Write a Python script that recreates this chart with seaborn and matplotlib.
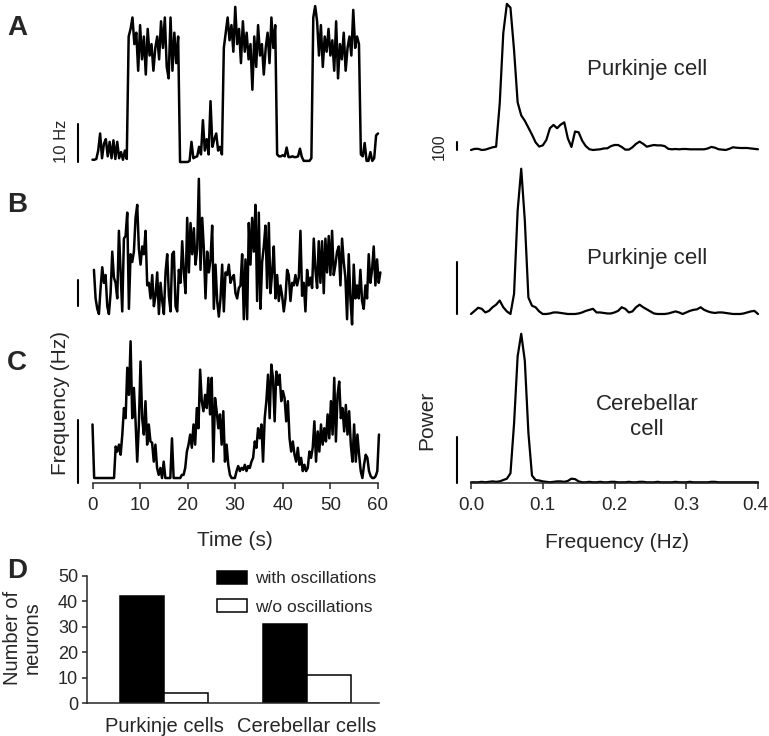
import numpy as np
import pandas as pd
import matplotlib
matplotlib.use("Agg")
import matplotlib.pyplot as plt
import matplotlib.transforms as mtransforms
import seaborn as sns

# ---------------- data ----------------
# Panel A: firing-rate trace (Hz), samples evenly spaced over 0-60 s
trace_a = [0.6, 0.6, 0.8, 3, 7.5, 1, 4.8, 6, 1.5, 5.3, 1, 5.7, 0.8, 5.3, 1, 2.6, 0.6, 3, 0.8,
           33, 35, 38, 31, 34, 24, 36, 27, 33, 23, 35, 28, 31, 24, 30, 33, 27, 37, 30, 38, 25, 22, 38, 24, 34, 26, 33,
           0, 0, 0, 0, 0, 0.3,
           5.3, 1, 1.3, 1.5, 4, 2, 11, 3, 6, 2, 16, 4, 6, 7.5, 3, 4, 2,
           30,
           34, 38, 32, 36, 29, 40.8, 31, 35, 26, 37, 29, 34, 27, 31, 19, 33, 25, 36, 28, 31, 23, 30, 34, 26, 38, 30, 36,
           2, 1.5, 1.5, 1.8, 1.5, 3.8, 1.3, 1.3, 1.5, 1.3, 1.3, 1.5, 3.5, 1.3, 0.3, 0.3, 0.3, 0.3, 1,
           38, 41, 37, 28, 36, 25, 33, 29, 35, 28, 32, 24, 37, 22, 31, 27, 34, 24, 30, 33, 28, 40, 30, 33, 31,
           2, 1.5, 5, 0.3, 0.3, 2.6, 0.3, 1, 7, 7.5]
trace_a_span = (0.0, 60.0)

# Panel B trace (Hz)
trace_b = [27, 16, 12, 10, 20, 28, 22, 25, 13, 10, 18, 34, 24, 22, 16, 42, 26, 11, 39, 40, 49, 12, 33, 30, 34,
           47, 52, 35, 29, 36, 33, 42, 21, 22, 16, 25, 13, 17, 26, 10, 22, 15, 10, 26, 33, 17, 11, 33, 34, 13,
           11, 27, 22, 38, 26, 18, 47, 26, 45, 33, 43, 29, 35, 62, 27, 47, 35, 16, 34, 26, 31, 44, 12, 29, 15,
           9, 16, 29, 11, 26, 25, 29, 22, 24, 25,
           18, 16, 20, 21, 33, 8, 31, 8, 45, 29, 47, 34, 52, 15, 49, 12, 30, 36, 44, 20, 45, 18, 26, 36, 16,
           25, 15, 21, 17, 11, 16, 27, 25, 15, 22, 21, 25, 21, 24, 42, 17, 22, 11, 27, 21, 24, 20, 39, 27, 20,
           38, 22, 38, 18, 39, 26, 40, 25, 42, 25, 29, 34, 36, 21, 39, 30, 24, 8, 33, 16, 6, 29, 16, 21, 16,
           27, 15, 12, 21, 16, 33, 22, 27, 36, 21, 31, 22, 26]
trace_b_span = (0.3, 60.5)

# Panel C trace (Hz)
trace_c = [8.5, 0, 0, 0, 0, 0, 0, 0, 0, 0, 0, 0, 0, 0,
           5.0, 4.2, 5.3, 3.7, 6.9, 11.1, 9.5, 17.5, 13.2, 21.7, 9.5, 14.3, 9.0, 2.6, 8.5, 18.5, 9.5, 6.9, 12.2, 5.3,
           8.5, 5.8, 5.6, 2.6, 5.3, 1.6, 0.5, 1.6, 0, 2.6,
           0, 0, 0, 0, 6.3, 0, 0, 0, 0, 0, 0.5, 0.5,
           1.6, 4.2, 5.3, 6.9, 4.8, 8.5, 5.3, 11.1, 7.9, 17.2, 12.2, 10.6, 13.2, 11.1, 15.9, 10.1, 15.9, 2.6, 12.7, 10.6,
           7.9, 10.1, 5.3, 10.6, 2.6, 5.3, 2.1, 0.5, 0, 0, 0,
           1.1, 1.9, 1.1, 1.6, 1.3, 2.1, 1.1, 1.9, 1.6, 2.6, 3.2, 5.8, 4.8, 7.9, 6.3, 8.5, 2.6, 9.5, 12.2, 16.4,
           9.5, 18.0, 15.9, 9.0, 16.9, 14.8, 16.4, 12.2, 13.8, 12.7, 9.0, 12.2, 6.3, 4.2, 5.8, 3.7, 2.6, 4.8, 2.1, 3.2,
           1.1, 2.1, 1.1, 1.6, 4.2, 3.2, 4.8, 9.0, 2.6, 7.4, 4.2, 8.5, 5.3, 7.9, 5.8, 10.1, 6.3, 12.2, 6.9, 15.9,
           5.8, 13.2, 15.3, 9.5, 11.1, 7.4, 11.6, 6.9, 10.6, 5.3, 2.6, 8.5, 2.6, 6.9, 3.7, 1.1, 0, 2.1, 3.7, 3.2,
           1.1, 0.3, 0, 0, 0.3, 1.1, 6.9]
trace_c_span = (0.0, 60.2)

# Power spectra, 0-0.4 Hz
spec_span = (0.0, 0.4)
spec_a = [0, 15, 15, 0, 5, 20, 35, 43, 600, 1520,
          1900, 1850, 1300, 620, 450, 380, 290, 200, 100, 45,
          60, 130, 283, 326, 283, 330, 360, 150, 40, 240,
          230, 120, 50, 10, 0, 5, 9, 20, 22, 50,
          65, 65, 40, 5, 5, 35, 80, 109, 80, 43,
          55, 65, 60, 60, 50, 15, 9, 13, 9, 13,
          13, 9, 9, 9, 9, 9, 20, 40, 30, 10,
          5, 0, 15, 35, 30, 26, 26, 26, 20, 15, 9]
spec_b = [0, 6, 12, 10, 3, 6, 13, 18, 26, 13,
          5, 0, 39, 200, 281, 181, 32, 16, 13, 5,
          0, 0, 1, 3, 3, 2, 1, 0, 0, 0,
          1, 3, 6, 8, 10, 3, 3, 2, 1, 1,
          3, 6, 13, 10, 3, 5, 13, 18, 13, 9,
          5, 1, 0, 0, 0, 1, 3, 5, 3, 0,
          3, 6, 8, 9, 13, 8, 5, 3, 2, 3,
          3, 2, 1, 0, 0, 0, 1, 3, 5, 6, 0]
spec_c = [0, 0, 0, 1, 0, 1, 2, 1, 2, 5,
          8, 20, 130, 280, 330, 270, 110, 15, 5, 4,
          2, 1, 0, 1, 2, 2, 1, 3, 8, 7,
          2, 0, 0, 1, 0, 0, 1, 0, 0, 1,
          1, 0, 0, 0, 1, 0, 0, 1, 1, 0,
          0, 0, 1, 0, 0, 0, 0, 1, 0, 0,
          0, 1, 0, 0, 0, 0, 0, 1, 1, 0,
          0, 0, 0, 0, 0, 0, 0, 0, 0, 0, 0]

# Panel D: counts
cell_types = ["Purkinje cells", "Cerebellar cells"]
groups = ["with oscillations", "w/o oscillations"]
counts_with = [42, 31]
counts_without = [4, 11]

time_ticks = [0, 10, 20, 30, 40, 50, 60]
freq_ticks = [0.0, 0.1, 0.2, 0.3, 0.4]
count_ticks = [0, 10, 20, 30, 40, 50]

# ---------------- figure ----------------
sns.set_style("white")
plt.rcParams['font.family'] = ['Liberation Sans', 'DejaVu Sans']
plt.rcParams['axes.linewidth'] = 1.1

W, H, DPI = 769, 736, 100
fig = plt.figure(figsize=(W / DPI, H / DPI), dpi=DPI)


def px_axes(x0, y0, x1, y1):
    ax = fig.add_axes([x0 / W, 1 - y1 / H, (x1 - x0) / W, (y1 - y0) / H])
    ax.patch.set_alpha(0)
    return ax


def clean(ax):
    for s in ax.spines.values():
        s.set_visible(False)
    ax.set_xticks([])
    ax.set_yticks([])
    ax.set_xlabel("")
    ax.set_ylabel("")


def ftext(x, y, s, **kw):
    ha = kw.pop('ha', 'center')
    va = kw.pop('va', 'center')
    fig.text(x / W, 1 - y / H, s, ha=ha, va=va, **kw)


def trace(ax, vals, span, lw):
    t = np.linspace(span[0], span[1], len(vals))
    sns.lineplot(x=t, y=np.asarray(vals, float), ax=ax, color='black', linewidth=lw,
                 estimator=None, sort=False)
    for ln in ax.lines:
        ln.set_clip_on(False)
        ln.set_solid_joinstyle('round')


TRACE_LW = 1.8
SPEC_LW = 1.6

# left traces
axA = px_axes(92.5, 0, 378, 170)
trace(axA, trace_a, trace_a_span, TRACE_LW)
clean(axA)
axA.set_xlim(0, 60); axA.set_ylim(-2.1, 42.6)
axA.plot([-3, -3], [0, 10], color='black', lw=1.5, clip_on=False)

axB = px_axes(92.5, 170, 378, 330)
trace(axB, trace_b, trace_b_span, TRACE_LW)
clean(axB)
axB.set_xlim(0, 60); axB.set_ylim(3.85, 65.4)
axB.plot([-3, -3], [13.1, 23.1], color='black', lw=1.5, clip_on=False)

axC = px_axes(92.5, 335, 378, 483)
trace(axC, trace_c, trace_c_span, TRACE_LW)
clean(axC)
axC.set_xlim(0, 60); axC.set_ylim(-0.79, 22.7)
axC.plot([-3, -3], [-0.79, 9.2], color='black', lw=1.5, clip_on=False)
axC.spines['bottom'].set_visible(True)
axC.set_xticks(time_ticks)
axC.set_xticklabels([str(v) for v in time_ticks])
axC.tick_params(axis='x', bottom=True, direction='out', length=4, width=1.1,
                labelsize=13.5, pad=6)

# right spectra
axRA = px_axes(471, 0, 758, 165)
trace(axRA, spec_a, spec_span, SPEC_LW)
clean(axRA)
axRA.set_xlim(0, 0.4); axRA.set_ylim(-195, 1950)
axRA.plot([-0.02, -0.02], [0, 100], color='black', lw=1.5, clip_on=False)

axRB = px_axes(471, 165, 758, 325)
trace(axRB, spec_b, spec_span, SPEC_LW)
clean(axRB)
axRB.set_xlim(0, 0.4); axRB.set_ylim(-21.3, 288.2)
axRB.plot([-0.02, -0.02], [0, 100], color='black', lw=1.5, clip_on=False)

axRC = px_axes(471, 330, 758, 483)
trace(axRC, spec_c, spec_span, SPEC_LW)
clean(axRC)
axRC.set_xlim(0, 0.4); axRC.set_ylim(-1.6, 338.4)
axRC.plot([-0.02, -0.02], [-1.6, 100], color='black', lw=1.5, clip_on=False)
axRC.spines['bottom'].set_visible(True)
axRC.set_xticks(freq_ticks)
axRC.set_xticklabels([f"{v:.1f}" for v in freq_ticks])
axRC.tick_params(axis='x', bottom=True, direction='out', length=4, width=1.1,
                 labelsize=13.5, pad=6)
# keep the last tick label inside the canvas
last = axRC.get_xticklabels()[-1]
last.set_transform(last.get_transform() +
                   mtransforms.ScaledTranslation(-3 / DPI, 0, fig.dpi_scale_trans))

# panel D bars
df = pd.DataFrame({
    'cell': cell_types + cell_types,
    'group': [groups[0]] * len(cell_types) + [groups[1]] * len(cell_types),
    'count': counts_with + counts_without,
})
axD = px_axes(87, 576, 379, 703)
sns.barplot(data=df, x='cell', y='count', hue='group', order=cell_types, hue_order=groups,
            palette=['black', 'white'], edgecolor='black', linewidth=1.1, width=0.615,
            errorbar=None, ax=axD)
axD.set_xlim(-0.538, 1.503)
axD.set_ylim(0, 50)
axD.set_yticks(count_ticks)
axD.set_xlabel("")
axD.set_ylabel("")
for s in ['top', 'right']:
    axD.spines[s].set_visible(False)
axD.spines['left'].set_visible(True)
axD.spines['bottom'].set_visible(True)
axD.tick_params(axis='y', left=True, direction='out', length=3.5, width=1.1,
                labelsize=13, pad=3)
axD.tick_params(axis='x', bottom=False, length=0, labelsize=14.5, pad=10)
handles, labels = axD.get_legend_handles_labels()
if axD.get_legend() is not None:
    axD.get_legend().remove()
axD.legend(handles, labels, loc='upper left', bbox_to_anchor=(217 / W, 1 - 571 / H),
           bbox_transform=fig.transFigure, frameon=False, fontsize=12.5,
           handlelength=1.72, handleheight=0.75, handletextpad=0.45,
           labelspacing=0.75, borderpad=0, borderaxespad=0)

# texts
for lab, y in [("A", 28), ("B", 205), ("C", 363), ("D", 571)]:
    ftext(17, y, lab, fontsize=20, fontweight='bold')
ftext(62, 141, "10 Hz", rotation=90, fontsize=12)
ftext(439, 147, "100", rotation=90, fontsize=11.5)
ftext(60, 403, "Frequency (Hz)", rotation=90, fontsize=15)
ftext(427, 420, "Power", rotation=90, fontsize=15)
ftext(235, 541, "Time (s)", fontsize=15)
ftext(617, 543, "Frequency (Hz)", fontsize=15)
ftext(647, 70, "Purkinje cell", fontsize=16)
ftext(647, 258, "Purkinje cell", fontsize=16)
ftext(647, 417, "Cerebellar\ncell", fontsize=16, linespacing=1.2, multialignment='center')
ftext(22, 638, "Number of\nneurons", rotation=90, fontsize=14.5, linespacing=1.05,
      multialignment='center')

fig.savefig("out.png", dpi=DPI)
